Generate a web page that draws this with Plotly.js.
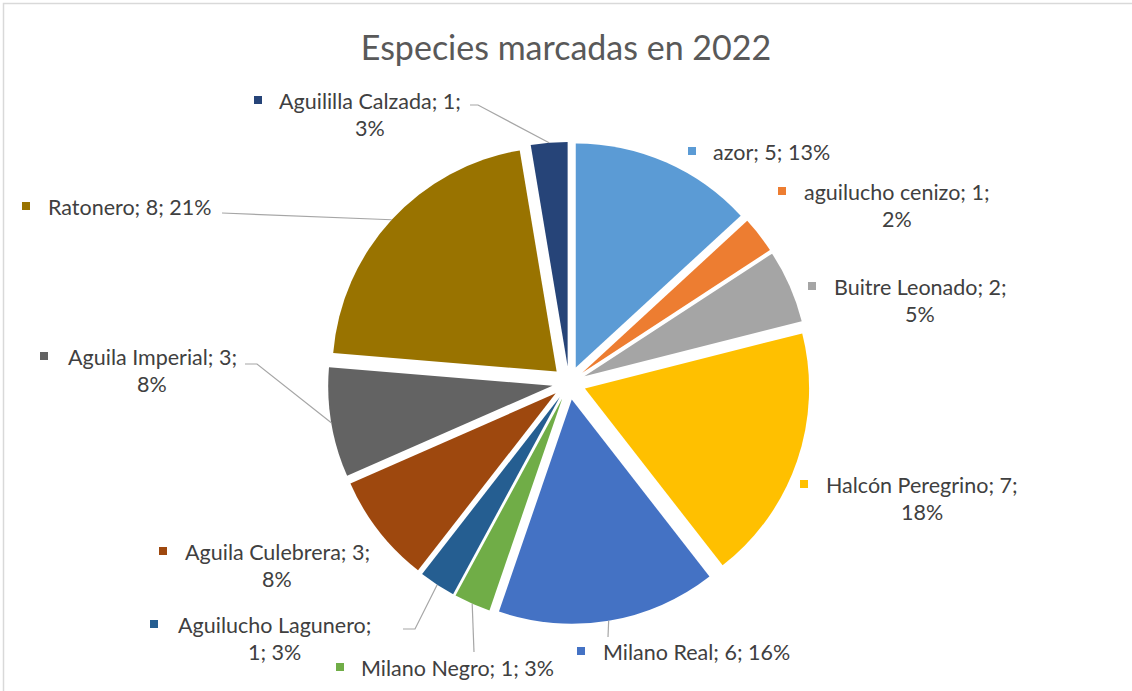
<!DOCTYPE html>
<html>
<head>
<meta charset="utf-8">
<script src="https://cdn.plot.ly/plotly-3.0.1.min.js"></script>
<style>html,body{margin:0;padding:0;background:#fff;}#chart{width:1132px;height:691px;}</style>
</head>
<body>
<div id="chart"></div>
<script>
// ---- data ----
const species = ["azor", "aguilucho cenizo", "Buitre Leonado", "Halcón Peregrino", "Milano Real",
  "Milano Negro", "Aguilucho Lagunero", "Aguila Culebrera", "Aguila Imperial", "Ratonero", "Aguililla Calzada"];
const counts = [5, 1, 2, 7, 6, 1, 1, 3, 3, 8, 1];
const pctLabels = [13, 2, 5, 18, 16, 3, 3, 8, 8, 21, 3];
const colors = ["#5B9BD5", "#ED7D31", "#A5A5A5", "#FFC000", "#4472C4", "#70AD47",
  "#255E91", "#9E480E", "#636363", "#997300", "#264478"];
const chartTitle = "Especies marcadas en 2022";

// ---- layout config (pixels) ----
const W = 1132, H = 691;
const pieCx = 569, pieCy = 383, pieHalf = 241, pull = 0.075;
// parts of "name; value; pct%" on the first line
const firstLineParts = [3, 2, 2, 2, 3, 3, 1, 2, 2, 3, 2];
const labelPos = [[771,152],[897,192],[920,287],[922,485],[696,652],[457,668],[274,625],[277,552],[152,357],[130,207],[370,101]];
const squareX = [692,782,812,804,581,340,154,163,44,26,258];
const lineGap = 27;
const leaders = {4: [[608,637]], 5: [[474,652]], 6: [[415,629],[403,629]], 8: [[257,364],[245,364]], 9: [[222,213]], 10: [[478,105],[470,105]]};
const FONT = "Lato, 'Open Sans', sans-serif";

const px = x => x / W;
const py = y => 1 - y / H;

const total = counts.reduce((a, b) => a + b, 0);
const annotations = [];
const shapes = [];

// chart border (top and left edges visible)
shapes.push({type: "path", xref: "paper", yref: "paper",
  path: `M ${px(3.5)} ${py(691)} L ${px(3.5)} ${py(3.5)} L ${px(1132)} ${py(3.5)}`,
  line: {color: "#D9D9D9", width: 1.5}, layer: "below"});

let cum = 0;
species.forEach((name, i) => {
  const parts = [name, String(counts[i]), pctLabels[i] + "%"];
  const n = firstLineParts[i];
  const lines = [];
  lines.push(parts.slice(0, n).join("; ") + (n < 3 ? ";" : ""));
  if (n < 3) lines.push(parts.slice(n).join("; "));
  const [lx, ly] = labelPos[i];
  lines.forEach((t, k) => {
    annotations.push({text: t, xref: "paper", yref: "paper", x: px(lx), y: py(ly + k * lineGap),
      xanchor: "center", yanchor: "middle", showarrow: false,
      font: {family: FONT, size: 21.5, color: "#404040"}});
  });
  // legend key square
  const s = 4;
  shapes.push({type: "rect", xref: "paper", yref: "paper",
    x0: px(squareX[i] - s), x1: px(squareX[i] + s), y0: py(ly - 1 - s), y1: py(ly - 1 + s),
    fillcolor: colors[i], line: {width: 0}});
  // leader line
  const mid = (cum + counts[i] / 2) / total * 2 * Math.PI;
  cum += counts[i];
  if (leaders[i]) {
    const sx = pieCx + Math.sin(mid) * pieHalf;
    const sy = pieCy - Math.cos(mid) * pieHalf;
    let path = `M ${px(sx)} ${py(sy)}`;
    leaders[i].forEach(p => { path += ` L ${px(p[0])} ${py(p[1])}`; });
    shapes.push({type: "path", xref: "paper", yref: "paper", path: path, line: {color: "#A6A6A6", width: 1.2}});
  }
});

const trace = {
  type: "pie",
  labels: species,
  values: counts,
  sort: false,
  direction: "clockwise",
  rotation: 0,
  pull: counts.map(() => pull),
  marker: {colors: colors, line: {width: 0}},
  textinfo: "none",
  hoverinfo: "label+value+percent",
  showlegend: false,
  domain: {x: [px(pieCx - pieHalf), px(pieCx + pieHalf)], y: [py(pieCy + pieHalf), py(pieCy - pieHalf)]}
};

const layout = {
  width: W, height: H,
  margin: {l: 0, r: 0, t: 0, b: 0},
  paper_bgcolor: "#ffffff",
  showlegend: false,
  title: {text: chartTitle, x: 0.5, xanchor: "center", y: py(48), yanchor: "middle", yref: "paper",
    font: {family: FONT, size: 34, color: "#595959"}},
  annotations: annotations,
  shapes: shapes
};

Plotly.newPlot("chart", [trace], layout, {displayModeBar: false, staticPlot: true});
</script>
</body>
</html>
